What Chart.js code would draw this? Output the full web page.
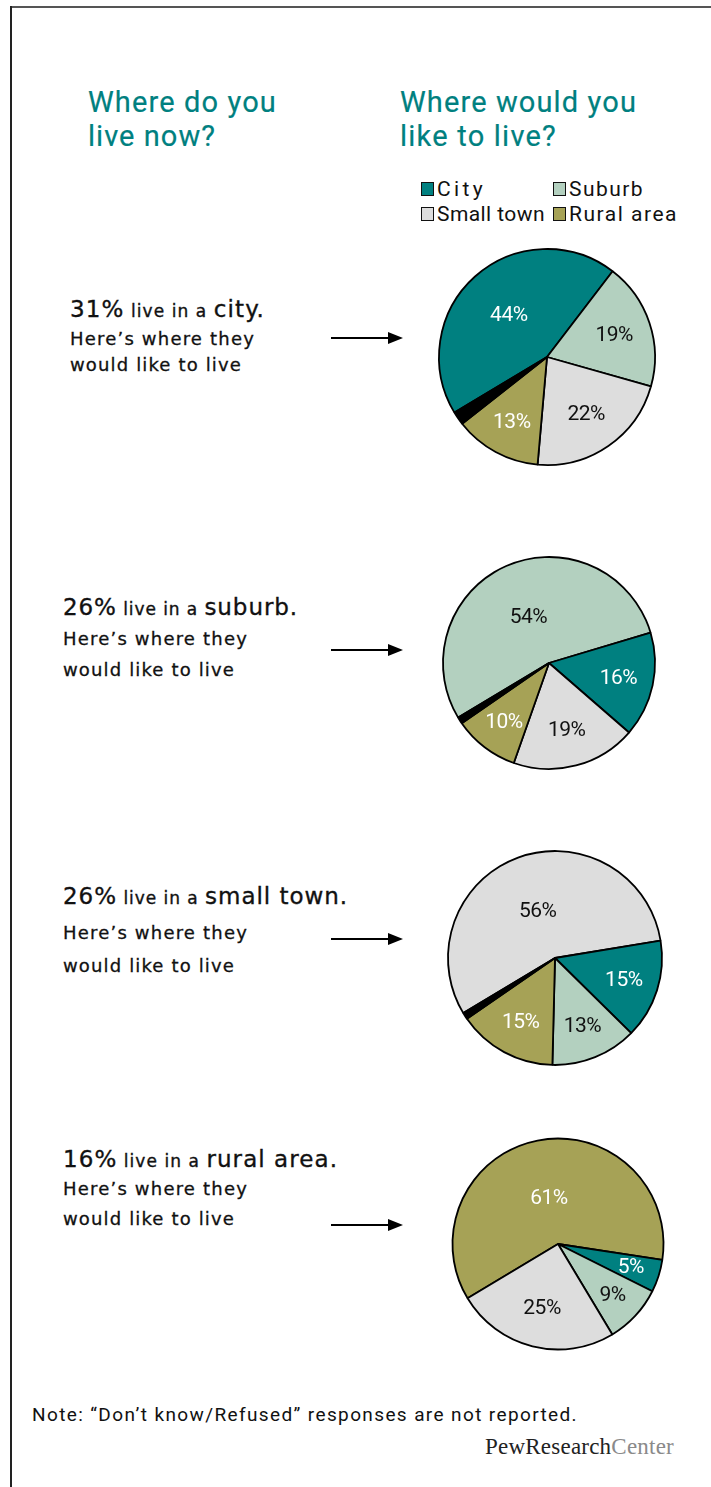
<!DOCTYPE html>
<html>
<head>
<meta charset="utf-8">
<script src="https://cdn.jsdelivr.net/npm/chart.js@4/dist/chart.umd.min.js"></script>
<style>
  html, body { margin:0; padding:0; background:#fff; }
  #page { position:relative; width:711px; height:1487px; overflow:hidden; background:#fff; }
  .t { position:absolute; white-space:nowrap; line-height:1; }
  .title { font-family: Roboto, "Liberation Sans", sans-serif; color:#008080; font-size:29px; -webkit-text-stroke:0.2px #008080; }
  .lead { font-family: "DejaVu Sans", sans-serif; color:#111; -webkit-text-stroke:0.35px #111; }
  .big { font-size:23px; }
  .small { font-size:17px; }
  .sub { font-family: "DejaVu Sans", sans-serif; color:#111; font-size:18px; -webkit-text-stroke:0.3px #111; }
  .leg { font-family: Roboto, "Liberation Sans", sans-serif; font-size:21px; color:#111; }
  .box { position:absolute; width:11px; height:12px; border:1.5px solid #111; }
  .note { font-family: Roboto, "Liberation Sans", sans-serif; font-size:19px; color:#111; }
  .logo { font-family: "Liberation Serif", "DejaVu Serif", serif; font-size:23px; color:#222; }
  canvas { position:absolute; }
</style>
</head>
<body>
<div id="page"></div>
<script>
// ---------- data ----------
const categories = ['City', 'Suburb', 'Small town', 'Rural area'];
const residenceNow = ['city', 'suburb', 'small town', 'rural area'];
const residenceShare = [31, 26, 26, 16];
// Preferred place to live, by current place of residence (city, suburb, small town, rural area)
const preferCity      = [44, 16, 15, 5];
const preferSuburb    = [19, 54, 13, 9];
const preferSmallTown = [22, 19, 56, 25];
const preferRural     = [13, 10, 15, 61];
const preferDontKnow  = [2, 1, 1, 0];
const noteText = 'Note: \u201cDon\u2019t know/Refused\u201d responses are not reported.';

// ---------- styling ----------
const catColors = ['#008080', '#B3D0BF', '#DDDDDD', '#A6A256'];
const dkColor = '#000000';
const labelColors = ['#ffffff', '#111111', '#111111', '#ffffff'];

const page = document.getElementById('page');

function addText(html, cls, x, baseline, fs, targetW) {
  const el = document.createElement('div');
  el.className = 't ' + cls;
  el.innerHTML = html;
  page.appendChild(el);
  el.style.left = x + 'px';
  el.style.top = (baseline - fs * 0.85) + 'px';
  if (targetW) {
    const w = el.getBoundingClientRect().width;
    const n = el.textContent.length;
    el.style.letterSpacing = ((targetW - w) / n) + 'px';
  }
  return el;
}

// frame
const frameTop = document.createElement('div');
frameTop.style.cssText = 'position:absolute;left:10px;top:6px;width:701px;height:2px;background:#555;';
page.appendChild(frameTop);
const frameLeft = document.createElement('div');
frameLeft.style.cssText = 'position:absolute;left:10px;top:6px;width:2px;height:1481px;background:#222;';
page.appendChild(frameLeft);

// titles
addText('Where do you', 'title', 88, 113, 29, 189);
addText('live now?', 'title', 88, 147, 29, 128);
addText('Where would you', 'title', 400, 113, 29, 237);
addText('like to live?', 'title', 400, 147, 29, 157);

// legend
const legendPos = [[421, 182], [553, 182], [421, 207], [553, 207]];
const legendW = [49, 75, 108, 109];
categories.forEach((c, i) => {
  const b = document.createElement('div');
  b.className = 'box';
  b.style.left = legendPos[i][0] + 'px';
  b.style.top = legendPos[i][1] + 'px';
  b.style.background = catColors[i];
  page.appendChild(b);
  addText(c, 'leg', legendPos[i][0] + 16, legendPos[i][1] + 15, 21, legendW[i]);
});

// rows
const rowX = [70, 63, 63, 63];
const rowBase = [[318, 345, 371], [616, 645, 676], [905, 939, 972], [1168, 1195, 1225]];
const rowW1 = [195, 235, 285, 275];
const arrowY = [338, 650, 939, 1225];
const pieCenters = [[546.5, 356.5], [548.5, 662.5], [555, 957.5], [557.5, 1243.5]];
const pieRadii = [108, 106, 107, 105.5];

const prefs = [preferCity, preferSuburb, preferSmallTown, preferRural];

residenceNow.forEach((name, i) => {
  addText('<span class="big">' + residenceShare[i] + '%</span><span class="small"> live in a </span><span class="big">' + name + '.</span>',
    'lead', rowX[i], rowBase[i][0], 23, rowW1[i]);
  addText('Here\u2019s where they', 'sub', rowX[i], rowBase[i][1], 18, 185);
  addText('would like to live', 'sub', rowX[i], rowBase[i][2], 18, 172);

  // arrow
  const svg = document.createElementNS('http://www.w3.org/2000/svg', 'svg');
  svg.setAttribute('width', '80'); svg.setAttribute('height', '16');
  svg.style.cssText = 'position:absolute;left:328px;top:' + (arrowY[i] - 8) + 'px;';
  svg.innerHTML = '<line x1="3" y1="8" x2="62" y2="8" stroke="#000" stroke-width="2"/>' +
                  '<polygon points="60,2 75,8 60,14" fill="#000"/>';
  page.appendChild(svg);

  // pie: current residence first, then the other categories, then DK
  const order = [i].concat([0, 1, 2, 3].filter(k => k !== i));
  const values = order.map(k => prefs[k][i]).concat([preferDontKnow[i]]);
  const colors = order.map(k => catColors[k]).concat([dkColor]);
  const lblColors = order.map(k => labelColors[k]).concat(['#fff']);
  const labels = order.map(k => categories[k]).concat(['Don\u2019t know/Refused']);

  const cv = document.createElement('canvas');
  cv.width = 240; cv.height = 240;
  cv.style.left = (pieCenters[i][0] - 120) + 'px';
  cv.style.top = (pieCenters[i][1] - 120) + 'px';
  cv.style.width = '240px'; cv.style.height = '240px';
  page.appendChild(cv);

  new Chart(cv, {
    type: 'pie',
    data: {
      labels: labels,
      datasets: [{
        data: values,
        backgroundColor: colors,
        borderColor: '#000',
        borderWidth: 1.8,
        rotation: -121,
        radius: pieRadii[i]
      }]
    },
    options: {
      responsive: false,
      animation: false,
      layout: { padding: 0 },
      plugins: { legend: { display: false }, tooltip: { enabled: false } }
    },
    plugins: [{
      id: 'sliceLabels',
      afterDatasetsDraw(chart) {
        const ctx = chart.ctx;
        const meta = chart.getDatasetMeta(0);
        const total = values.reduce((a, b) => a + b, 0);
        ctx.save();
        ctx.font = '21px Roboto, "Liberation Sans", sans-serif';
        try { ctx.letterSpacing = '-0.5px'; } catch (e) {}
        ctx.textAlign = 'center';
        ctx.textBaseline = 'middle';
        meta.data.forEach((arc, j) => {
          if (j === values.length - 1) return;
          const p = arc.getProps(['x', 'y', 'startAngle', 'endAngle', 'outerRadius'], true);
          const mid = (p.startAngle + p.endAngle) / 2;
          const frac = values[j] / total;
          const rr = p.outerRadius * (0.75 - 0.5 * frac);
          ctx.fillStyle = lblColors[j];
          ctx.fillText(values[j] + '%', p.x + Math.cos(mid) * rr, p.y + Math.sin(mid) * rr + 1);
        });
        ctx.restore();
      }
    }]
  });
});

// note and logo
addText(noteText, 'note', 32, 1421, 19, 546);
addText('PewResearch<span style="color:#8a8a8a">Center</span>', 'logo', 485, 1455, 23, 189);
</script>
</body>
</html>
